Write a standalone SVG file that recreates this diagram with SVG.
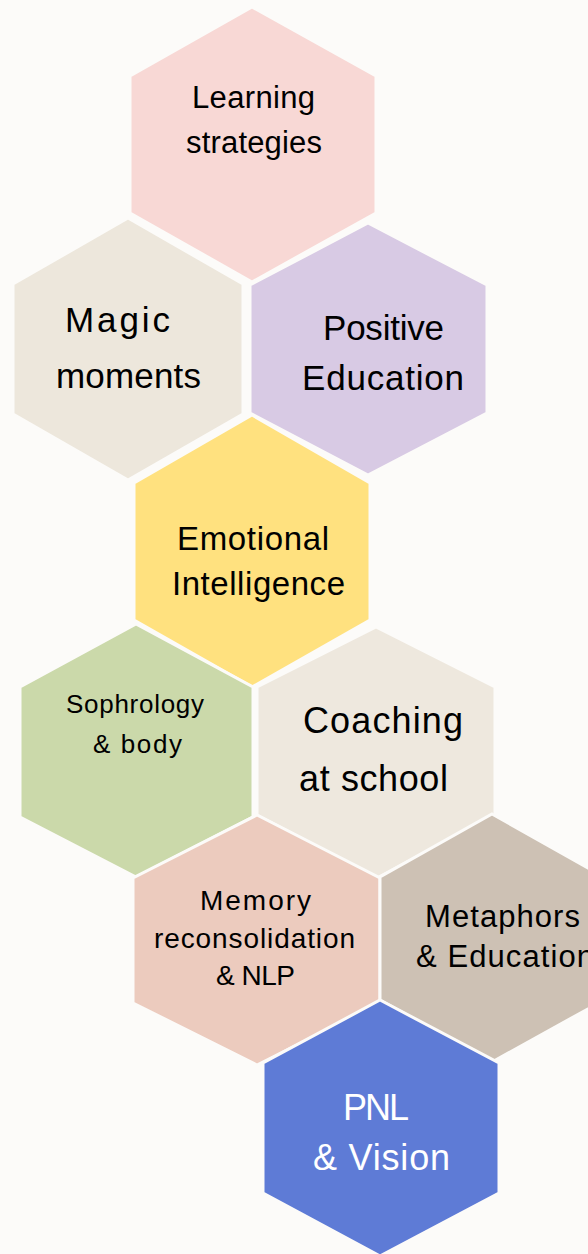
<svg xmlns="http://www.w3.org/2000/svg" width="588" height="1254" viewBox="0 0 588 1254">
<style>
.hex{stroke:#FCFBF9;stroke-width:3;stroke-linejoin:miter}
.t{font-family:"Liberation Sans","Lato",sans-serif;fill:#000}
.w{fill:#FFFFFF}
</style>
<rect x="0" y="0" width="588" height="1254" fill="#FCFBF9"/>
<g id="connectors"></g>
<g id="learning-strategies">
<polygon class="hex" fill="#F8D8D5" points="252,7 376,76 376,213 252,282 130,213 130,76"/>
<text class="t" font-size="31" x="192" y="108" textLength="123">Learning</text>
<text class="t" font-size="31" x="186" y="153" textLength="136">strategies</text>
</g>
<g id="magic-moments">
<polygon class="hex" fill="#EDE7DC" points="128,218 243,284 243,414 128,480 13,414 13,284"/>
<text class="t" font-size="35" x="65" y="332" textLength="105">Magic</text>
<text class="t" font-size="35" x="56" y="388" textLength="145">moments</text>
</g>
<g id="positive-education">
<polygon class="hex" fill="#D8CAE4" points="368,223 487,285 487,413 368,475 250,413 250,285"/>
<text class="t" font-size="35" x="323" y="340" textLength="121">Positive</text>
<text class="t" font-size="35" x="302" y="390" textLength="162">Education</text>
</g>
<g id="emotional-intelligence">
<polygon class="hex" fill="#FFE17F" points="252,415 370,483 370,620 252,687 134,620 134,483"/>
<text class="t" font-size="33" x="177" y="550" textLength="152">Emotional</text>
<text class="t" font-size="33" x="172" y="595" textLength="173">Intelligence</text>
</g>
<g id="sophrology-body">
<polygon class="hex" fill="#CBD9AA" points="136,624 253,687 253,817 136,877 20,817 20,687"/>
<text class="t" font-size="26" x="66" y="713" textLength="138">Sophrology</text>
<text class="t" font-size="26" x="93" y="753" textLength="89">&amp; body</text>
</g>
<g id="coaching-at-school">
<polygon class="hex" fill="#EEE8DE" points="376,627 495,687 495,815 377,878 257,815 257,687"/>
<text class="t" font-size="36" x="303" y="733" textLength="160">Coaching</text>
<text class="t" font-size="36" x="299" y="791" textLength="149">at school</text>
</g>
<g id="memory-reconsolidation-nlp">
<polygon class="hex" fill="#ECCBBE" points="257,815 380,878 380,1003 257,1065 133,1003 133,878"/>
<text class="t" font-size="28" x="200" y="910" textLength="111">Memory</text>
<text class="t" font-size="28" x="154" y="948" textLength="201">reconsolidation</text>
<text class="t" font-size="28" x="216" y="985" textLength="79">&amp; NLP</text>
</g>
<g id="metaphors-education">
<polygon class="hex" fill="#CDC1B4" points="492,814 604,877 604,1000 492,1062 380,1000 380,877"/>
<text class="t" font-size="31" x="425" y="927" textLength="155">Metaphors</text>
<text class="t" font-size="31" x="416" y="967" textLength="178">&amp; Education</text>
</g>
<g id="pnl-vision">
<polygon class="hex" fill="#5E7BD6" points="380,1000 499,1063 499,1193 380,1256 263,1193 263,1063"/>
<text class="t w" font-size="36" x="343" y="1120" textLength="66">PNL</text>
<text class="t w" font-size="36" x="313" y="1170" textLength="137">&amp; Vision</text>
</g>
</svg>
